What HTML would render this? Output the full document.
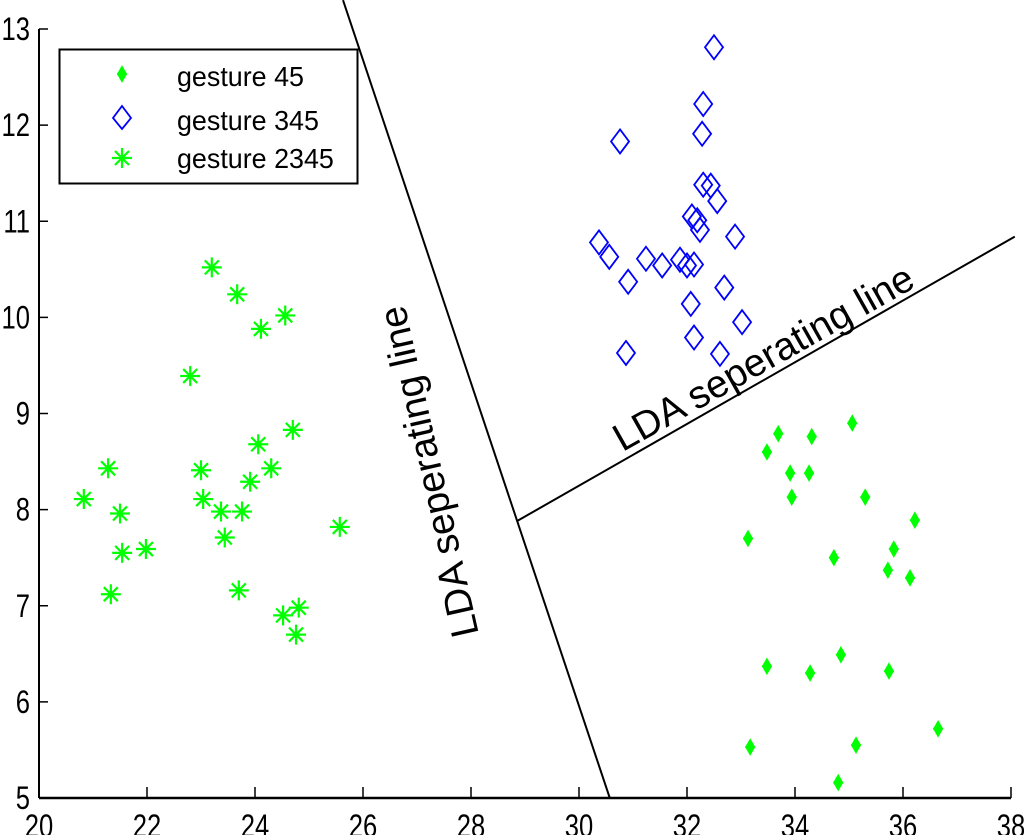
<!DOCTYPE html>
<html><head><meta charset="utf-8"><style>
html,body{margin:0;padding:0;background:#fff;}
svg{display:block;font-family:"Liberation Sans",sans-serif;}
</style></head><body>
<svg id="chart" width="1024" height="835" viewBox="0 0 1024 835" xmlns="http://www.w3.org/2000/svg">
<g id="axes"></g>
<g id="lines"></g>
<g id="marks"></g>
<g>
<rect x="59.5" y="49.5" width="298" height="134" fill="#fff" stroke="#000" stroke-width="2"/>
<g>
<path d="M122 67 L126 74 L122 81 L118 74 Z M117 74 H127 M122 68 V80" fill="#00ff00" stroke="#00ff00" stroke-width="1.8"/>
<text x="177" y="86" font-size="28" transform="translate(177,0) scale(0.96,1) translate(-177,0)">gesture 45</text></g>
<g>
<path d="M122 106 L131 118 L122 129 L113 118 Z" fill="none" stroke="#0000ff" stroke-width="1.8"/>
<text x="177" y="130" font-size="28" transform="translate(177,0) scale(0.96,1) translate(-177,0)">gesture 345</text></g>
<g>
<path d="M112 158 H132 M122 148 V168 M115 151 L129 165 M129 151 L115 165" stroke="#00ff00" stroke-width="2.2"/>
<text x="177" y="168" font-size="28" transform="translate(177,0) scale(0.96,1) translate(-177,0)">gesture 2345</text></g>
</g>
<text x="0" y="14" font-size="39" text-anchor="middle" transform="translate(428,472) rotate(-102.7)">LDA seperating line</text>
<text x="0" y="14" font-size="39" text-anchor="middle" transform="translate(763,357) rotate(-29.4)">LDA seperating line</text>
</svg>
<script>
const xTicks = [20,22,24,26,28,30,32,34,36,38];
const yTicks = [5,6,7,8,9,10,11,12,13];
const g45x = [33.69,33.48,34.31,35.06,33.91,34.26,33.94,35.30,33.13,36.22,34.72,35.83,35.72,36.13,33.48,34.28,34.85,35.74,36.65,35.13,33.17,34.80];
const g45y = [8.79,8.60,8.76,8.90,8.38,8.38,8.13,8.13,7.70,7.89,7.50,7.59,7.37,7.29,6.37,6.30,6.49,6.32,5.72,5.55,5.53,5.16];
const g345x = [32.50,32.30,30.76,32.28,32.30,32.44,32.56,30.37,30.56,32.19,32.09,32.24,32.89,31.24,31.54,31.87,32.00,32.13,30.91,32.69,32.07,33.02,32.13,30.87,32.61];
const g345y = [12.81,12.22,11.83,11.91,11.38,11.37,11.21,10.78,10.63,11.01,11.05,10.91,10.84,10.61,10.54,10.60,10.54,10.55,10.37,10.31,10.14,9.95,9.79,9.63,9.62];
const g2345x = [20.83,21.28,21.50,21.54,21.98,21.33,23.20,23.67,24.11,24.56,22.80,23.00,23.04,23.37,23.44,23.76,23.91,24.06,24.30,24.70,25.57,23.70,24.52,24.81,24.76];
const g2345y = [8.11,8.43,7.96,7.55,7.59,7.12,10.52,10.24,9.88,10.02,9.39,8.41,8.11,7.98,7.71,7.98,8.29,8.68,8.43,8.83,7.82,7.16,6.90,6.98,6.70];
const line1x = [25.63,30.57];
const line1y = [13.30,5];
const line2x = [28.85,38.07];
const line2y = [7.88,10.84];

const NS = "http://www.w3.org/2000/svg";
const X0=39, X1=1011, Y0=798, Y1=29;
const sx = v => X0 + (v-20)/(38-20)*(X1-X0);
const sy = v => Y0 - (v-5)/(13-5)*(Y0-Y1);
function mk(tag, attrs, parent){
  const e=document.createElementNS(NS,tag);
  for(const k in attrs) e.setAttribute(k,attrs[k]);
  parent.appendChild(e); return e;
}
const axes=document.getElementById('axes');
const xa=mk('path',{d:`M${X0} ${Y0} H${X1}`,stroke:'#000','stroke-width':2.5,fill:'none'},axes);


const ya=mk('path',{d:`M${X0} ${Y0} V${Y1}`,stroke:'#000','stroke-width':2,fill:'none'},axes);


xTicks.forEach(t=>{
  const x=sx(t);
  const tk=mk('path',{d:`M${x} ${Y0} V${Y0-11}`,stroke:'#000','stroke-width':1.5},axes);
  
  
  const lb=mk('text',{x:0,y:0,'font-size':32,'text-anchor':'middle',transform:`translate(${x},837) scale(0.8,1)`},axes);
  lb.textContent=t;
  
  
});
yTicks.forEach(t=>{
  const y=sy(t);
  const tk=mk('path',{d:`M${X0} ${y} H${X0+9}`,stroke:'#000','stroke-width':1.5},axes);
  
  
  const lb=mk('text',{x:0,y:0,'font-size':32,'text-anchor':'end',transform:`translate(30,${y+11}) scale(0.8,1)`},axes);
  lb.textContent=t;
  
  
});
const lines=document.getElementById('lines');
[[line1x,line1y,'lda-line-1'],[line2x,line2y,'lda-line-2']].forEach(([lx,ly,n])=>{
  const l=mk('line',{x1:sx(lx[0]),y1:sy(ly[0]),x2:sx(lx[1]),y2:sy(ly[1]),stroke:'#000','stroke-width':2},lines);
  
  
});
const marks=document.getElementById('marks');
g45x.forEach((v,i)=>{
  const x=sx(v), y=sy(g45y[i]);
  const p=mk('path',{d:`M${x} ${y-7} L${x+4} ${y} L${x} ${y+7} L${x-4} ${y} Z M${x-5} ${y} H${x+5}`,fill:'#00ff00',stroke:'#00ff00','stroke-width':1.8},marks);
  
  
});
g345x.forEach((v,i)=>{
  const x=sx(v), y=sy(g345y[i]);
  const p=mk('path',{d:`M${x} ${y-12} L${x+9} ${y} L${x} ${y+12} L${x-9} ${y} Z`,fill:'none',stroke:'#0000ff','stroke-width':1.8},marks);
  
  
});
g2345x.forEach((v,i)=>{
  const x=sx(v), y=sy(g2345y[i]);
  const p=mk('path',{d:`M${x-10} ${y} H${x+10} M${x} ${y-10} V${y+10} M${x-7} ${y-7} L${x+7} ${y+7} M${x+7} ${y-7} L${x-7} ${y+7}`,stroke:'#00ff00','stroke-width':2.2,fill:'none'},marks);
  
  
});
</script>
</body></html>
